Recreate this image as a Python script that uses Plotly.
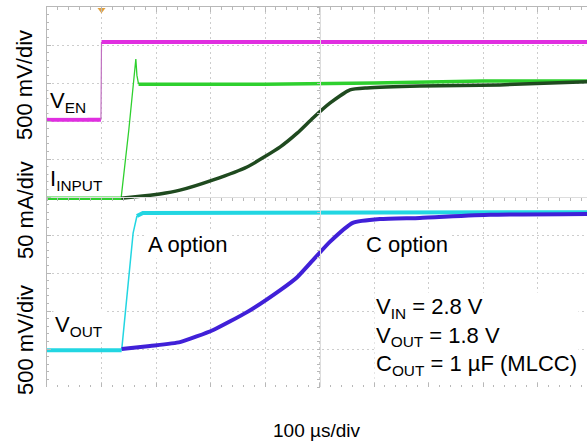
import plotly.graph_objects as go

# time axis in microseconds (100 us/div), values in screen divisions (0 = bottom, 10 = top)
ven_t = [0, 99, 100, 991]
ven_y = [7.03, 7.03, 9.08, 9.08]

iin_a_t = [0, 136, 150, 163, 165, 168, 400, 600, 800, 991]
iin_a_y = [4.97, 4.97, 6.75, 8.63, 8.2, 7.97, 7.97, 8.0, 8.05, 8.05]

iin_c_t = [136, 158, 207, 244, 305, 367, 428, 459, 488, 519, 556, 587, 684, 831, 991]
iin_c_y = [4.97, 5.0, 5.08, 5.18, 5.45, 5.79, 6.32, 6.68, 7.08, 7.47, 7.82, 7.87, 7.92, 7.95, 8.03]

vout_a_t = [0, 137, 158, 165, 176, 991]
vout_a_y = [0.97, 0.97, 4.05, 4.5, 4.58, 4.6]

vout_c_t = [137, 189, 244, 305, 367, 428, 459, 488, 519, 561, 611, 684, 813, 991]
vout_c_y = [1.0, 1.08, 1.18, 1.5, 1.97, 2.55, 2.89, 3.34, 3.82, 4.32, 4.42, 4.45, 4.53, 4.55]

trigger_t = 100

XMAX = 990.8
grid_c = "#cdcdcd"
edge_c = "#b8b8b8"
FONT = "Liberation Sans, Arial, sans-serif"

fig = go.Figure()

def add(t, y, color, width, shape="linear"):
    fig.add_trace(go.Scatter(x=t, y=y, mode="lines",
                             line=dict(color=color, width=width, shape=shape, smoothing=0.5),
                             hoverinfo="skip", showlegend=False))

# V_EN
add(ven_t[:2], ven_y[:2], "#e02ee0", 4)
add(ven_t[1:3], ven_y[1:3], "#c070c0", 1.2)
add(ven_t[2:], ven_y[2:], "#e02ee0", 4)

# I_INPUT A option (bright green)
add(iin_a_t[:2], iin_a_y[:2], "#2ed02e", 3.5)
add(iin_a_t[1:6], iin_a_y[1:6], "#2ed02e", 1.3)
add(iin_a_t[5:], iin_a_y[5:], "#2ed02e", 3.5)

# I_INPUT C option (dark green)
add(iin_c_t, iin_c_y, "#1f4a1f", 3.5, "spline")

# V_OUT A option (cyan)
add(vout_a_t[:2], vout_a_y[:2], "#22d6e2", 4)
add(vout_a_t[1:4], vout_a_y[1:4], "#22d6e2", 1.5)
add(vout_a_t[3:], vout_a_y[3:], "#22d6e2", 4)

# V_OUT C option (blue)
add(vout_c_t, vout_c_y, "#4020d8", 4, "spline")

# trigger marker
fig.add_trace(go.Scatter(x=[trigger_t], y=[9.93], mode="markers",
                         marker=dict(symbol="triangle-down", size=7, color="#e0a040"),
                         hoverinfo="skip", showlegend=False, cliponaxis=False))

fig.update_layout(
    width=587, height=443,
    margin=dict(l=47, r=0, t=7, b=56, autoexpand=False),
    paper_bgcolor="white", plot_bgcolor="white",
    font=dict(family=FONT, size=22, color="black"),
    xaxis=dict(range=[0, XMAX], dtick=100, tick0=0, showgrid=True, gridcolor=grid_c,
               griddash="2px,3px", gridwidth=1, zeroline=False, showline=False,
               showticklabels=False, ticks="inside", ticklen=4, tickcolor=edge_c,
               minor=dict(dtick=20, ticks="inside", ticklen=2, tickcolor=edge_c)),
    xaxis2=dict(range=[0, XMAX], overlaying="x", side="top", showgrid=False, zeroline=False,
                showline=True, linecolor=edge_c, linewidth=1, showticklabels=False,
                ticks="inside", ticklen=5, tickcolor=edge_c, dtick=100, tick0=0,
                minor=dict(dtick=20, ticks="inside", ticklen=3, tickcolor=edge_c)),
    xaxis3=dict(range=[0, XMAX], overlaying="x", anchor="free", position=0.5,
                showgrid=False, zeroline=False, showline=True, linecolor="#dddddd",
                showticklabels=False, ticks="outside", ticklen=3, tickcolor=edge_c,
                dtick=20, tick0=0),
    yaxis=dict(range=[0, 10], dtick=1, tick0=0, showgrid=True, gridcolor=grid_c,
               griddash="2px,3px", gridwidth=1, zeroline=False, showline=True,
               linecolor=edge_c, linewidth=1, showticklabels=False,
               ticks="inside", ticklen=4, tickcolor=edge_c,
               minor=dict(dtick=0.2, ticks="inside", ticklen=2, tickcolor=edge_c)),
    yaxis2=dict(range=[0, 10], overlaying="y", anchor="free", position=500 / XMAX,
                showgrid=False, zeroline=False, showline=True, linecolor="#dddddd",
                showticklabels=False, ticks="outside", ticklen=3, tickcolor=edge_c,
                dtick=0.2, tick0=0),
)

# invisible traces to activate extra axes
fig.add_trace(go.Scatter(x=[0], y=[0], xaxis="x2", yaxis="y", mode="markers",
                         marker=dict(opacity=0), hoverinfo="skip", showlegend=False))
fig.add_trace(go.Scatter(x=[0], y=[0], xaxis="x3", yaxis="y2", mode="markers",
                         marker=dict(opacity=0), hoverinfo="skip", showlegend=False))

# plot area is 540x380 px starting at (47,7); place texts by page pixel
def pann(text, px, py, size=22, **kw):
    fig.add_annotation(text=text, x=(px - 47) / 540, y=(387 - py) / 380, xref="paper",
                       yref="paper", showarrow=False,
                       font=dict(family=FONT, size=size, color="black"), **kw)

pann("500 mV/div", 25, 85, textangle=-90, xanchor="center", yanchor="middle")
pann("50 mA/div", 25, 210, textangle=-90, xanchor="center", yanchor="middle")
pann("500 mV/div", 25, 340, textangle=-90, xanchor="center", yanchor="middle")
pann("V<sub>EN</sub>", 48, 102, xanchor="left", yanchor="middle", bgcolor="white")
pann("I<sub>INPUT</sub>", 48, 180, xanchor="left", yanchor="middle", bgcolor="white")
pann("V<sub>OUT</sub>", 53, 326, xanchor="left", yanchor="middle", bgcolor="white")
pann("A option", 146, 245, xanchor="left", yanchor="middle", bgcolor="white")
pann("C option", 364, 245, xanchor="left", yanchor="middle", bgcolor="white")
pann("V<sub>IN</sub> = 2.8 V<br>V<sub>OUT</sub> = 1.8 V<br>C<sub>OUT</sub> = 1 µF (MLCC)",
     374, 336, xanchor="left", yanchor="middle", align="left", bgcolor="white")
pann("100 µs/div", 316, 430, size=19, xanchor="center", yanchor="middle")

fig.write_html("out.html", config={"displayModeBar": False},
               post_script="document.body.style.margin='0';document.body.style.overflow='hidden';")
